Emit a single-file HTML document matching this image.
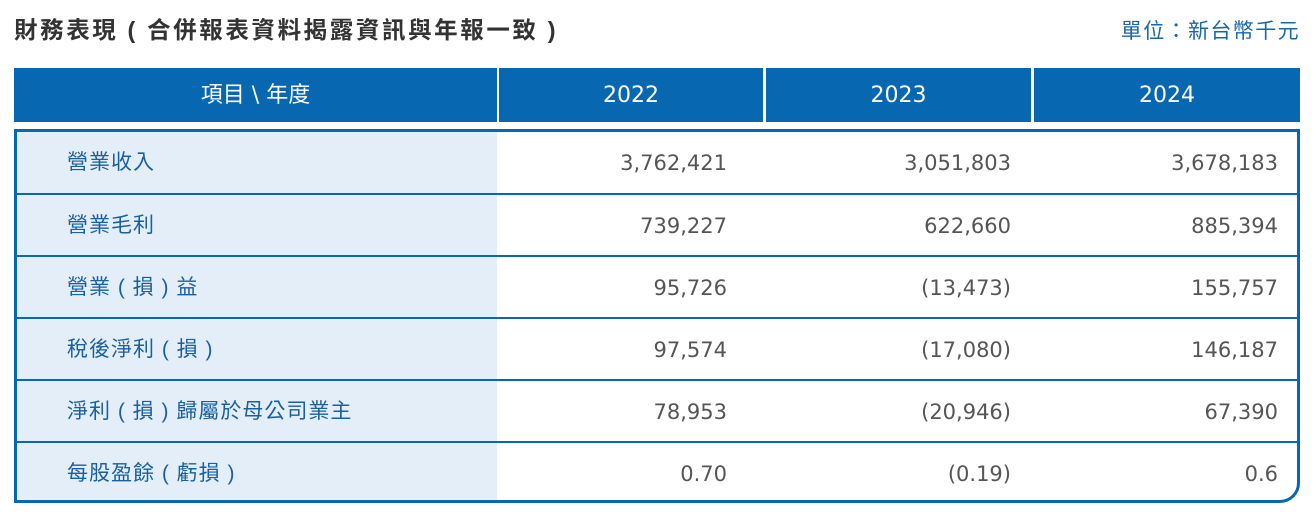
<!DOCTYPE html>
<html><head><meta charset="utf-8"><style>
body{margin:0;width:1314px;height:515px;background:#fff;font-family:"Liberation Sans","Noto Sans CJK TC",sans-serif;position:relative;overflow:hidden}
.t{position:absolute;left:14px;top:11px;font-size:23.5px;font-weight:bold;color:#333;letter-spacing:2.6px;word-spacing:0px}
.u{position:absolute;right:14px;top:15px;font-size:21px;color:#1a67a8;letter-spacing:1.4px}
.h{position:absolute;top:68px;height:54px;background:#0767b1;color:#fff;font-size:22px;line-height:56px;text-align:center;font-family:"DejaVu Sans","Noto Sans CJK TC",sans-serif}
.box{position:absolute;left:14px;top:129px;width:1280px;height:368px;border:3px solid #0767b1;border-bottom-right-radius:20px;overflow:hidden}
.first{position:absolute;left:0;top:0;width:480px;height:368px;background:#e4eef8}
.r{position:absolute;left:0;width:1280px;height:62px;border-top:2px solid #0767b1;box-sizing:border-box}
.r span{position:absolute;top:1px;line-height:60px;font-size:21px;color:#555;font-family:"DejaVu Sans",sans-serif}
.r .l{left:50px;color:#1a5f9e;font-size:21px;font-family:"Liberation Sans","Noto Sans CJK TC",sans-serif;letter-spacing:1px}
</style></head><body>
<div class="t">財務表現 ( 合併報表資料揭露資訊與年報一致 )</div>
<div class="u">單位：新台幣千元</div>
<div class="h" style="left:14px;width:483px">項目 \ 年度</div>
<div class="h" style="left:499px;width:264px">2022</div>
<div class="h" style="left:766px;width:265px">2023</div>
<div class="h" style="left:1034px;width:266px">2024</div>
<div class="box"><div class="first"></div>
<div class="r" style="top:0;border-top:none"><span class="l">營業收入</span><span style="right:570px">3,762,421</span><span style="right:286px">3,051,803</span><span style="right:19px">3,678,183</span></div>
<div class="r" style="top:61px"><span class="l">營業毛利</span><span style="right:570px">739,227</span><span style="right:286px">622,660</span><span style="right:19px">885,394</span></div>
<div class="r" style="top:123px"><span class="l">營業 ( 損 ) 益</span><span style="right:570px">95,726</span><span style="right:286px">(13,473)</span><span style="right:19px">155,757</span></div>
<div class="r" style="top:185px"><span class="l">稅後淨利 ( 損 )</span><span style="right:570px">97,574</span><span style="right:286px">(17,080)</span><span style="right:19px">146,187</span></div>
<div class="r" style="top:247px"><span class="l">淨利 ( 損 ) 歸屬於母公司業主</span><span style="right:570px">78,953</span><span style="right:286px">(20,946)</span><span style="right:19px">67,390</span></div>
<div class="r" style="top:309px"><span class="l">每股盈餘 ( 虧損 )</span><span style="right:570px">0.70</span><span style="right:286px">(0.19)</span><span style="right:19px">0.6</span></div>
</div>
</body></html>
